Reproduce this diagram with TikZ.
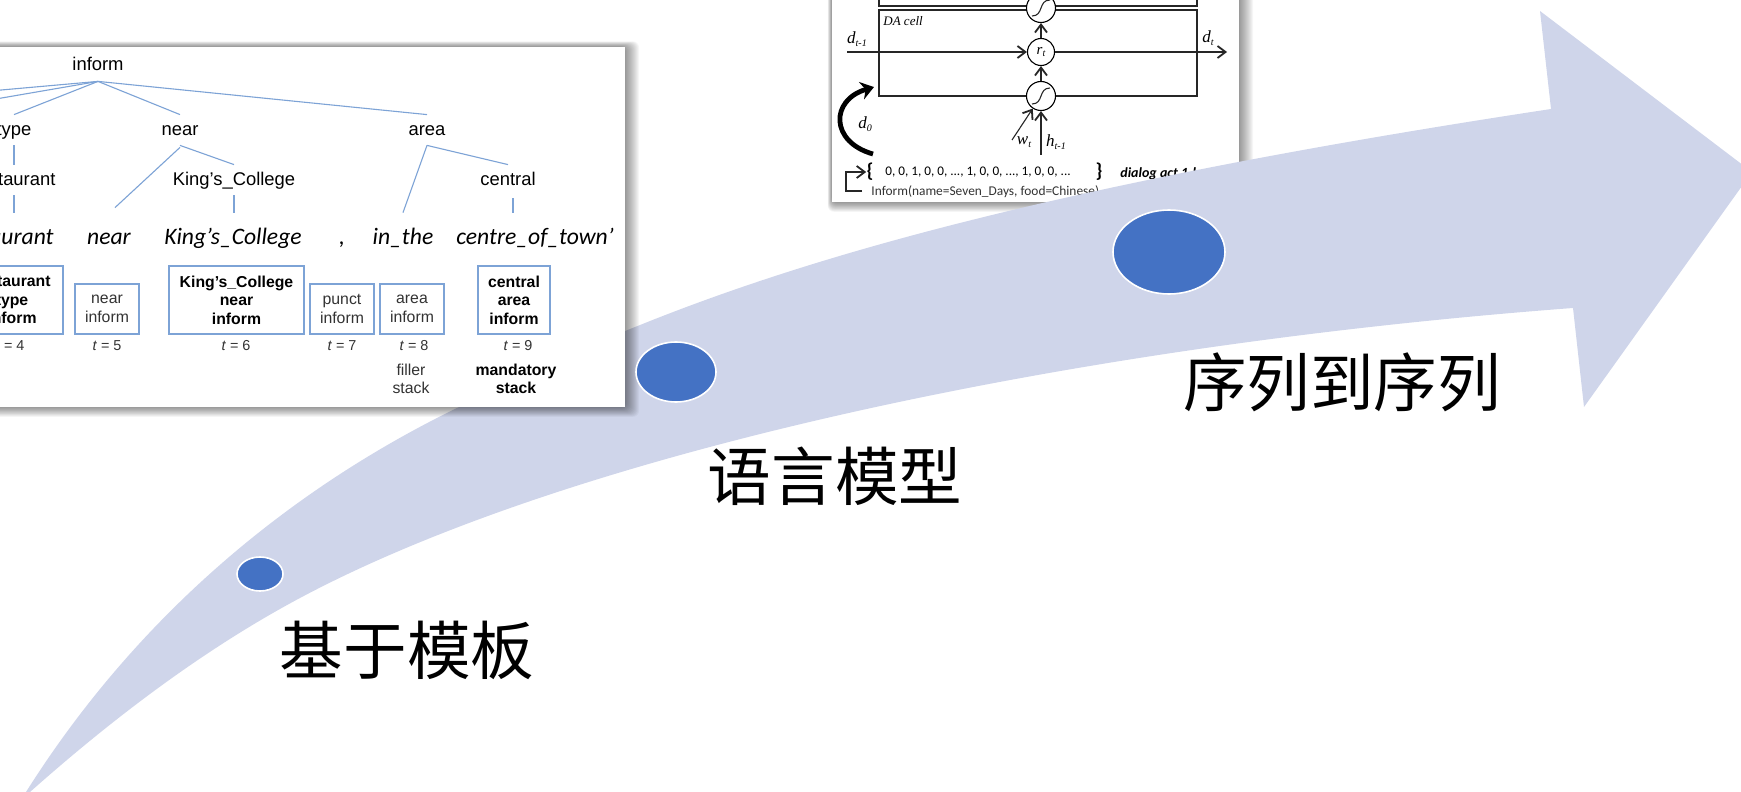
\documentclass[tikz,border=0pt]{standalone}
\usepackage{fontspec}
\usepackage{tikz}
\usetikzlibrary{arrows.meta, shapes.geometric}
\setmainfont{Liberation Sans}
\newfontfamily\cjk{Noto Sans CJK SC}
\newfontfamily\calibri{Carlito}
\newfontfamily\timesfont{Liberation Serif}
\definecolor{arrowfill}{HTML}{CFD5EA}
\definecolor{dotblue}{HTML}{4472C4}
\definecolor{treeblue}{HTML}{7DA3D6}
\definecolor{plaingray}{HTML}{333333}
\tikzset{
  treelabel/.style={inner sep=0, text height=7pt, text depth=2pt, minimum height=15pt, font=\fontsize{9.2}{11}\selectfont},
  wordlabel/.style={inner sep=0, text height=8pt, text depth=3pt, minimum height=26pt, font=\calibri\itshape\fontsize{11.8}{14}\selectfont},
  treeline/.style={treeblue, line width=.55pt},
  slotbox/.style={draw=treeblue, line width=.6pt, inner sep=0, align=center, text=plaingray, font=\fontsize{7.9}{9.25}\selectfont},
  boldbox/.style={slotbox, text=black, font=\bfseries\fontsize{7.9}{9.25}\selectfont},
  steplabel/.style={inner sep=0, text=plaingray, font=\fontsize{7.2}{9}\selectfont},
  stacklabel/.style={inner sep=0, align=center, text=plaingray, font=\fontsize{7.9}{9.25}\selectfont},
  milestone/.style={ellipse, draw=white, line width=.8pt, fill=dotblue, inner sep=0},
  stagelabel/.style={inner sep=0, font=\cjk\fontsize{31.8}{36}\selectfont},
  cellgate/.style={circle, draw=black, fill=white, line width=.55pt, inner sep=0, minimum size=14.5pt},
  cellline/.style={black!85, line width=.55pt},
  cellarrow/.style={cellline, -{Straight Barb[length=4pt,width=6pt,line width=.9pt]}},
  mathlabel/.style={inner sep=0, font=\timesfont\itshape\fontsize{8.5}{10}\selectfont}
}
\newcommand{\panelshadow}[4]{%
  \foreach \s in {1,...,14} {\fill[black, opacity=.035, rounded corners=3pt] ({#1-.3*\s},{#2-.4*\s}) rectangle ({#3+\s},{#4+.7*\s});}
}
\newcommand{\sigmoidmark}[1]{\draw[cellline, shift={(#1.center)}] (-9,8) .. controls (3,8) and (-3,-8) .. (9,-8);}
\newcommand{\cellsym}[2]{#1\raisebox{-.3ex}{\fontsize{5}{6}\selectfont #2}}

\begin{document}
\begin{tikzpicture}[x=0.5pt, y=-0.5pt]
  \useasboundingbox (0,0) rectangle (1741,792);
  \clip (0,0) rectangle (1741,792);

  % second panel, the arrow runs over its corner
  \panelshadow{832}{-30}{1239}{202}
  \fill[white] (832,-30) rectangle (1239,202);
  \draw[cellline] (879,-30) rectangle (1197,6);
  \draw[cellline] (879,10) rectangle (1197,96);
  \node[inner sep=0, anchor=west, font=\timesfont\itshape\fontsize{6.5}{8}\selectfont] (cellname) at (883,21) {DA cell};
  \node[cellgate] (gatetop) at (1041,8) {};
  \node[cellgate, minimum size=13.5pt, font=\timesfont\itshape\fontsize{7.5}{9}\selectfont] (gatemid) at (1041,52) {\cellsym{r}{t}};
  \node[cellgate] (gatelow) at (1041,96) {};
  \sigmoidmark{gatetop}
  \sigmoidmark{gatelow}
  \coordinate (actin) at (847,52);
  \coordinate (actout) at (1227,52);
  \coordinate (wordin) at (1012,140);
  \coordinate (hiddenin) at (1041,155);
  \draw[cellarrow] (actin) -- (gatemid);
  \draw[cellarrow] (gatemid) -- (actout);
  \draw[cellarrow] (gatemid) -- (gatetop);
  \draw[cellarrow] (gatelow) -- (gatemid);
  \draw[cellarrow] (wordin) -- (gatelow);
  \draw[cellarrow] (hiddenin) -- (gatelow);
  \node[mathlabel] (actprev) at (857,39) {\cellsym{d}{t-1}};
  \node[mathlabel] (actnow) at (1208,38) {\cellsym{d}{t}};
  \node[mathlabel] (wordlabel) at (1024,142) {\cellsym{w}{t}};
  \node[mathlabel] (hiddenlabel) at (1056,142) {\cellsym{h}{t-1}};
  \node[mathlabel] (actzero) at (865,124) {\cellsym{d}{0}};
  \coordinate (loopstart) at (873,154);
  \coordinate (loopend) at (874,87);
  \draw[line width=2.4pt, -{Stealth[length=6.5pt,width=9pt]}] (loopstart) .. controls (830,142) and (830,100) .. (loopend);
  \node[inner sep=0, font=\calibri\bfseries\fontsize{10}{12}\selectfont] (vecopen) at (870,172) {\{};
  \node[inner sep=0, font=\calibri\fontsize{6.6}{9}\selectfont] (vecbits) at (978,172) {0, 0, 1, 0, 0, ..., 1, 0, 0, ..., 1, 0, 0, ...};
  \node[inner sep=0, font=\calibri\bfseries\fontsize{10}{12}\selectfont] (vecclose) at (1099,172) {\}};
  \node[inner sep=0, anchor=west, font=\calibri\bfseries\itshape\fontsize{7}{9}\selectfont] (vecname) at (1120,174) {dialog act 1-hot};
  \node[inner sep=0, anchor=west, text=plaingray, font=\calibri\fontsize{6.7}{9}\selectfont] (actform) at (871,192) {Inform(name=Seven\_Days, food=Chinese)};
  \coordinate (formtail) at (862,191);
  \draw[cellarrow] (formtail) -| (846,172) -- (vecopen.west);

  % the big arrow
  \fill[arrowfill] (26,792) .. controls (149,597) and (313,478) .. (457,408)
    .. controls (655,311) and (872,212) .. (1551,109)
    -- (1540,11) -- (1752,172) -- (1584,407) -- (1573,308)
    .. controls (1054,347) and (564,457) .. (300,598)
    .. controls (210,646) and (120,712) .. (30,792) -- cycle;

  % first panel
  \panelshadow{-40}{47}{625}{407}
  \fill[white] (-40,47) rectangle (625,407);
  \node[treelabel] (inform) at (98,66) {inform};
  \node[treelabel] (type) at (14,130) {type};
  \node[treelabel] (near) at (180,130) {near};
  \node[treelabel] (area) at (427,130) {area};
  \node[treelabel] (restaurant) at (14,180) {restaurant};
  \node[treelabel] (college) at (234,180) {King’s\_College};
  \node[treelabel] (central) at (508,180) {central};
  \node[wordlabel, anchor=east] (wordrest) at (54,239) {restaurant};
  \node[wordlabel] (wordnear) at (109,239) {near};
  \node[wordlabel] (wordcollege) at (233,239) {King’s\_College};
  \node[wordlabel] (wordcomma) at (342,239) {,};
  \node[wordlabel] (wordthe) at (403,239) {in\_the};
  \node[wordlabel] (wordcentre) at (535,239) {centre\_of\_town’};
  \coordinate (leftone) at (-10,91);
  \coordinate (lefttwo) at (-10,100);
  \coordinate (centraltail) at (513,198);
  \coordinate (centrehead) at (513,213);
  \draw[treeline] (inform.south) -- (leftone);
  \draw[treeline] (inform.south) -- (lefttwo);
  \foreach \kid in {type,near,area} {\draw[treeline] (inform.south) -- (\kid.north);}
  \draw[treeline] (type.south) -- (restaurant.north);
  \draw[treeline] ([yshift=-1pt]near.south) -- ([shift={(6,-5)}]wordnear.north);
  \draw[treeline] (near.south) -- (college.north);
  \draw[treeline] (area.south) -- (wordthe.north);
  \draw[treeline] (area.south) -- (central.north);
  \draw[treeline] (restaurant.south) -- (restaurant.south |- wordthe.north);
  \draw[treeline] (college.south) -- (college.south |- wordthe.north);
  \draw[treeline] (centraltail) -- (centrehead);
  \node[boldbox, minimum width=51pt, minimum height=34pt] (slotrest) at (12,300) {restaurant\\type\\inform};
  \node[slotbox, minimum width=32pt, minimum height=25pt] (slotnear) at (107,309) {near\\inform};
  \node[boldbox, minimum width=67.5pt, minimum height=34pt] (slotcollege) at (236.5,300) {King’s\_College\\near\\inform};
  \node[slotbox, minimum width=32pt, minimum height=25pt] (slotpunct) at (342,309) {punct\\inform};
  \node[slotbox, minimum width=32pt, minimum height=25pt] (slotarea) at (412,309) {area\\inform};
  \node[boldbox, minimum width=36pt, minimum height=34pt] (slotcentral) at (514,300) {central\\area\\inform};
  \node[steplabel] (stepfour) at (10,346) {\textit{t} = 4};
  \node[steplabel] (stepfive) at (107,346) {\textit{t} = 5};
  \node[steplabel] (stepsix) at (236,346) {\textit{t} = 6};
  \node[steplabel] (stepseven) at (342,346) {\textit{t} = 7};
  \node[steplabel] (stepeight) at (414,346) {\textit{t} = 8};
  \node[steplabel] (stepnine) at (518,346) {\textit{t} = 9};
  \node[stacklabel] (filler) at (411,379) {filler\\stack};
  \node[stacklabel, text=black, font=\bfseries\fontsize{7.9}{9.25}\selectfont] (mandatory) at (516,379) {mandatory\\stack};

  % stages along the arrow
  \node[milestone, minimum width=23pt, minimum height=17pt] (stageone) at (260,574) {};
  \node[milestone, minimum width=40pt, minimum height=30pt] (stagetwo) at (676,372) {};
  \node[milestone, minimum width=56pt, minimum height=42pt] (stagethree) at (1169,252) {};
  \node[stagelabel] (labelone) at (407,650) {基于模板};
  \node[stagelabel] (labeltwo) at (835,476) {语言模型};
  \node[stagelabel] (labelthree) at (1342,382) {序列到序列};
\end{tikzpicture}
\end{document}
